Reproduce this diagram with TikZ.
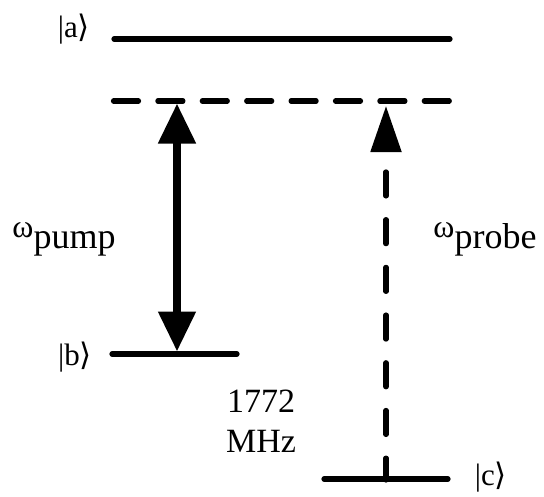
\documentclass[tikz,border=0pt]{standalone}
\usepackage{fontspec}
\setmainfont{Liberation Serif}
\newfontfamily\symfont{DejaVu Sans}
\usetikzlibrary{arrows.meta}

\newcommand{\ketr}{{\symfont ⟩}}

\begin{document}
\begin{tikzpicture}[x=1pt,y=-1pt,
  level/.style={line width=5.2pt,line cap=round},
  virtual/.style={level,dash pattern=on 25pt off 19.4pt},
  pumparrow/.style={line width=8pt,{Triangle[length=40pt,width=36pt]}-{Triangle[length=40pt,width=36pt]}},
  probearrow/.style={line width=5.2pt,line cap=round,dash pattern=on 24pt off 23.7pt,dash phase=26.45pt,{Triangle[length=46pt,width=30pt]}-},
  ket/.style={font=\fontsize{31}{36}\selectfont,anchor=base,inner sep=0pt},
  lbl/.style={font=\fontsize{34}{40}\selectfont,anchor=base,inner sep=0pt}]
  \useasboundingbox (0,0) rectangle (544,496);
  % energy levels
  \coordinate (a-l) at (114,39);  \coordinate (a-r) at (450,39);
  \coordinate (v-l) at (113.5,101); \coordinate (v-r) at (450,101);
  \coordinate (b-l) at (112,354); \coordinate (b-r) at (237,354);
  \coordinate (c-l) at (324,479); \coordinate (c-r) at (448,479);
  \draw[level] (a-l) -- (a-r);
  \draw[virtual] (v-l) -- (v-r);
  \draw[level] (b-l) -- (b-r);
  \draw[level] (c-l) -- (c-r);
  % transitions
  \coordinate (pump-top) at (177,103.5); \coordinate (pump-bot) at (177,351.5);
  \coordinate (probe-top) at (386,106);  \coordinate (probe-bot) at (386,480);
  \draw[pumparrow] (pump-top) -- (pump-bot);
  \draw[probearrow] (probe-top) -- (probe-bot);
  % labels
  \node[ket] (ka) at (74,37) {|a\ketr};
  \node[ket] (kb) at (75,365) {|b\ketr};
  \node[ket] (kc) at (491,485) {|c\ketr};
  \node[lbl] (wpump) at (64,237) {{\fontsize{32}{36}\selectfont ω}\raisebox{-11pt}{\fontsize{36}{40}\selectfont pump}};
  \node[lbl] (wprobe) at (485,237) {{\fontsize{32}{36}\selectfont ω}\raisebox{-11pt}{\fontsize{36}{40}\selectfont probe}};
  \node[lbl] (freq) at (261,412) {1772};
  \node[lbl] (mhz) at (261,452) {MHz};
\end{tikzpicture}
\end{document}
